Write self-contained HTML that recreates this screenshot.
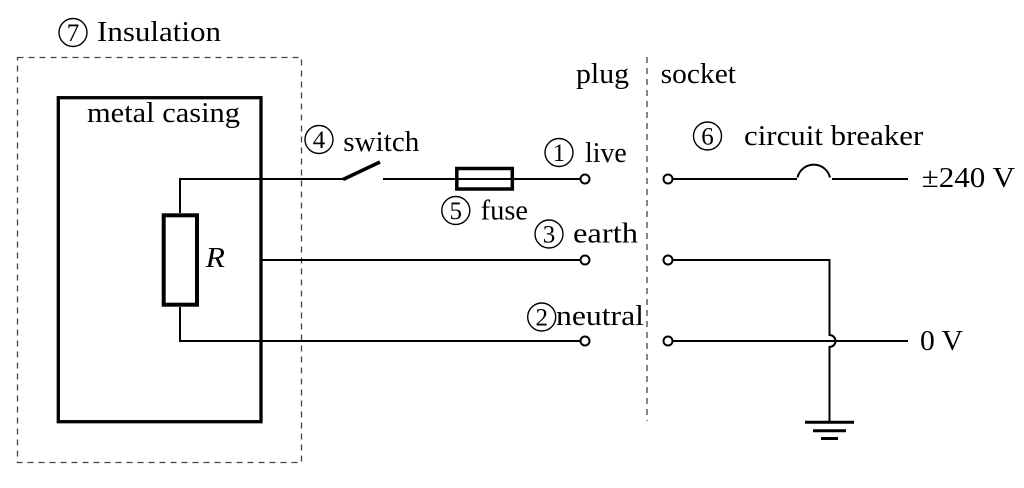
<!DOCTYPE html>
<html>
<head>
<meta charset="utf-8">
<style>
  html, body { margin: 0; padding: 0; background: #fff; }
  svg { display: block; }
  text { font-family: "Liberation Serif", "DejaVu Serif", serif; fill: #000; }
</style>
</head>
<body>
<svg width="1024" height="488" viewBox="0 0 1024 488" xmlns="http://www.w3.org/2000/svg">
  <rect x="0" y="0" width="1024" height="488" fill="#fff"/>

  <!-- Insulation dashed box -->
  <rect x="17.5" y="57.5" width="284" height="405" fill="none" stroke="#444" stroke-width="1.3" stroke-dasharray="6 5"/>
  <!-- plug/socket divider -->
  <line x1="647" y1="57" x2="647" y2="421" stroke="#444" stroke-width="1.3" stroke-dasharray="6 5"/>

  <!-- metal casing -->
  <rect x="58.3" y="97.7" width="202.7" height="324" fill="none" stroke="#000" stroke-width="3.3"/>

  <!-- wires plug side -->
  <g stroke="#000" stroke-width="2" fill="none">
    <path d="M180 213 V179 H343"/>
    <path d="M383 179 H580.5"/>
    <path d="M261 260 H580.5"/>
    <path d="M180 307 V341 H580.5"/>
    <!-- socket side -->
    <path d="M672.5 179 H797"/>
    <path d="M797.5 177.5 A16.7 16.7 0 0 1 830 177.5"/>
    <path d="M832 179 H908"/>
    <path d="M672.5 260 H829.5 V335 A6 6 0 0 1 829.5 347 V422"/>
    <path d="M672.5 341 H908"/>
  </g>

  <!-- switch blade -->
  <line x1="343" y1="179.5" x2="380" y2="162" stroke="#000" stroke-width="3.5"/>

  <!-- fuse -->
  <rect x="456.8" y="168.5" width="55.5" height="20.5" fill="none" stroke="#000" stroke-width="3.5"/>

  <!-- resistor -->
  <rect x="163.7" y="215.3" width="33.3" height="89.4" fill="none" stroke="#000" stroke-width="4"/>

  <!-- terminals -->
  <g fill="#fff" stroke="#000" stroke-width="2">
    <circle cx="585" cy="179" r="4.5"/>
    <circle cx="585" cy="260" r="4.5"/>
    <circle cx="585" cy="341" r="4.5"/>
    <circle cx="668" cy="179" r="4.5"/>
    <circle cx="668" cy="260" r="4.5"/>
    <circle cx="668" cy="341" r="4.5"/>
  </g>

  <!-- ground -->
  <g stroke="#000" stroke-width="3">
    <line x1="805" y1="422.3" x2="854" y2="422.3"/>
    <line x1="813" y1="430.7" x2="846" y2="430.7"/>
    <line x1="821" y1="438.5" x2="838" y2="438.5"/>
  </g>

  <!-- circled numbers -->
  <g fill="none" stroke="#000" stroke-width="1.4">
    <circle cx="73" cy="32.5" r="14"/>
    <circle cx="319" cy="139.5" r="14"/>
    <circle cx="559" cy="152.5" r="14"/>
    <circle cx="455.8" cy="210.5" r="14"/>
    <circle cx="549" cy="234" r="14"/>
    <circle cx="541.7" cy="317" r="14"/>
    <circle cx="707.5" cy="136" r="14"/>
  </g>
  <g font-size="25" text-anchor="middle">
    <text x="73" y="41">7</text>
    <text x="319" y="148">4</text>
    <text x="559" y="161">1</text>
    <text x="455.8" y="219">5</text>
    <text x="549" y="242.5">3</text>
    <text x="541.7" y="325.5">2</text>
    <text x="707.5" y="144.5">6</text>
  </g>

  <!-- labels -->
  <g font-size="28">
    <text x="97" y="41" textLength="124" lengthAdjust="spacingAndGlyphs">Insulation</text>
    <text x="87" y="122" textLength="153" lengthAdjust="spacingAndGlyphs">metal casing</text>
    <text x="343.3" y="151" textLength="76" lengthAdjust="spacingAndGlyphs">switch</text>
    <text x="585" y="162" textLength="41.7" lengthAdjust="spacingAndGlyphs">live</text>
    <text x="480.7" y="219.5" textLength="47.3" lengthAdjust="spacingAndGlyphs">fuse</text>
    <text x="573" y="242.5" textLength="65" lengthAdjust="spacingAndGlyphs">earth</text>
    <text x="556" y="325" textLength="88" lengthAdjust="spacingAndGlyphs">neutral</text>
    <text x="576" y="83" textLength="53" lengthAdjust="spacingAndGlyphs">plug</text>
    <text x="660.7" y="83" textLength="75.3" lengthAdjust="spacingAndGlyphs">socket</text>
    <text x="744" y="145" textLength="179.3" lengthAdjust="spacingAndGlyphs">circuit breaker</text>
    <text x="921.7" y="187" textLength="93.3" lengthAdjust="spacingAndGlyphs">±240 V</text>
    <text x="920" y="350" textLength="43" lengthAdjust="spacingAndGlyphs">0 V</text>
    <text x="205.7" y="267" font-style="italic" textLength="19.3" lengthAdjust="spacingAndGlyphs">R</text>
  </g>
</svg>
</body>
</html>
